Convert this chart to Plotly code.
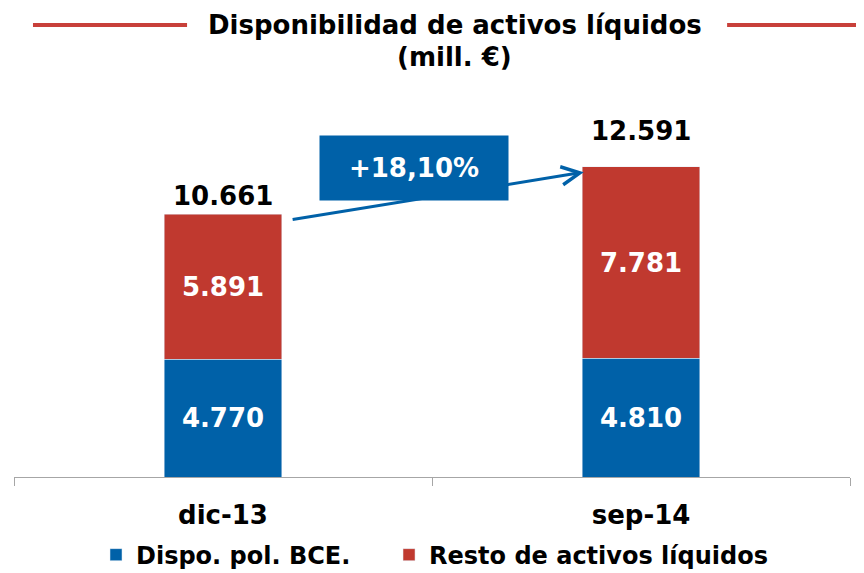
import plotly.graph_objects as go

categories = ["dic-13", "sep-14"]
dispo_bce = [4770, 4810]
resto_activos = [5891, 7781]
series_names = ["Dispo. pol. BCE.", "Resto de activos líquidos"]
title_lines = ["Disponibilidad de activos líquidos", "(mill. €)"]

BLUE = "#0061A8"
RED = "#C0392F"
FONT = "DejaVu Sans"

totals = [a + b for a, b in zip(dispo_bce, resto_activos)]
growth = (totals[1] / totals[0] - 1) * 100

def fmt(v):
    return f"{v:,.0f}".replace(",", ".")

fig = go.Figure()
fig.add_trace(go.Bar(
    x=categories, y=dispo_bce, name=series_names[0], marker_color=BLUE,
    width=0.28, text=[fmt(v) for v in dispo_bce], textposition="inside",
    insidetextanchor="middle", legend="legend",
    textfont=dict(family=FONT, size=26, color="white", weight="bold"),
))
fig.add_trace(go.Bar(
    x=categories, y=resto_activos, name=series_names[1], marker_color=RED,
    width=0.28, text=[fmt(v) for v in resto_activos], textposition="inside",
    insidetextanchor="middle", legend="legend2",
    textfont=dict(family=FONT, size=26, color="white", weight="bold"),
))

annotations = []
for c, t, ys in zip(categories, totals, [1, 19]):
    annotations.append(dict(
        x=c, y=t, xref="x", yref="y", text=fmt(t), showarrow=False,
        yanchor="bottom", yshift=ys,
        font=dict(family=FONT, size=26, color="black", weight="bold"),
    ))

# growth arrow between bar tops
annotations.append(dict(
    x=0.863, y=totals[1] - 220, xref="x", yref="y",
    ax=0.163, ay=totals[0] - 220, axref="x", ayref="y",
    text="", showarrow=True, arrowhead=5, arrowsize=1.2, arrowwidth=3,
    arrowcolor=BLUE, standoff=0,
))
annotations.append(dict(
    x=0.457, y=totals[1] - 50, xref="x", yref="y",
    text=f"+{growth:.2f}%".replace(".", ","), showarrow=False,
    bgcolor=BLUE, width=180, height=56, borderpad=4, align="center",
    valign="middle",
    font=dict(family=FONT, size=26, color="white", weight="bold"),
))

# title
annotations.append(dict(
    x=0.5275, y=1.199, xref="paper", yref="paper", text=title_lines[0],
    showarrow=False, yanchor="middle",
    font=dict(family=FONT, size=26, color="black", weight="bold"),
))
annotations.append(dict(
    x=0.5275, y=1.114, xref="paper", yref="paper", text=title_lines[1],
    showarrow=False, yanchor="middle",
    font=dict(family=FONT, size=26, color="black", weight="bold"),
))

shapes = [
    dict(type="line", xref="paper", yref="paper", x0=0.0227, x1=0.207,
         y0=1.199, y1=1.199, line=dict(color="#C8403A", width=4)),
    dict(type="line", xref="paper", yref="paper", x0=0.853, x1=1.06,
         y0=1.199, y1=1.199, line=dict(color="#C8403A", width=4)),
]

legend_font = dict(family=FONT, size=24, color="black", weight="bold")

# page body has an 8px margin; figure is sized so it fills the 864x573 window
fig.update_layout(
    barmode="stack",
    width=856, height=565,
    margin=dict(l=6, r=14, t=92, b=96, autoexpand=False),
    paper_bgcolor="white", plot_bgcolor="white",
    separators=",.",
    annotations=annotations,
    shapes=shapes,
    showlegend=True,
    legend=dict(
        orientation="h", x=0.0981, xanchor="left", y=-0.207, yanchor="middle",
        font=legend_font, itemwidth=30, bgcolor="rgba(0,0,0,0)",
    ),
    legend2=dict(
        orientation="h", x=0.4486, xanchor="left", y=-0.207, yanchor="middle",
        font=legend_font, itemwidth=30, bgcolor="rgba(0,0,0,0)",
    ),
    xaxis=dict(
        showline=True, linecolor="#A6A6A6", linewidth=1,
        ticks="outside", tickson="boundaries", ticklen=8, tickcolor="#A6A6A6",
        tickfont=dict(family=FONT, size=26, color="black", weight="bold"),
        ticklabelstandoff=15,
        showgrid=False,
    ),
    yaxis=dict(visible=False, range=[0, 15300], showgrid=False),
)

fig.write_html("out.html")
